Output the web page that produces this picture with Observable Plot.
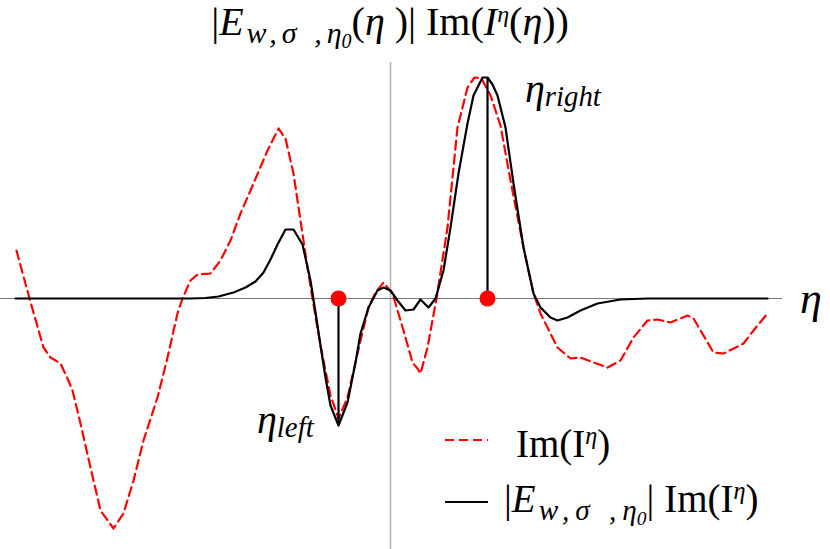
<!DOCTYPE html>
<html><head><meta charset="utf-8">
<script src="https://cdn.jsdelivr.net/npm/d3@7"></script>
<script src="https://cdn.jsdelivr.net/npm/@observablehq/plot@0.6"></script>
<style>html,body{margin:0;padding:0;background:#fff}#chart svg{display:block}</style>
</head><body><div id="chart"></div>
<script>
// Im(I^eta): [eta, value]
const imEta = [
[-3.74,0.48],[-3.61,0],[-3.47,-0.49],[-3.40,-0.59],[-3.30,-0.65],[-3.23,-0.80],[-3.18,-0.92],[-3.10,-1.25],
[-3.00,-1.69],[-2.90,-2.12],[-2.77,-2.30],[-2.67,-2.15],[-2.57,-1.82],[-2.47,-1.42],[-2.33,-0.99],[-2.23,-0.59],
[-2.13,-0.15],[-2.08,0],[-2.00,0.18],[-1.93,0.24],[-1.80,0.25],[-1.70,0.38],[-1.60,0.58],[-1.50,0.85],
[-1.37,1.15],[-1.23,1.48],[-1.12,1.70],[-1.05,1.60],[-0.97,1.25],[-0.90,0.78],[-0.83,0.31],[-0.78,0],
[-0.70,-0.47],[-0.60,-0.97],[-0.52,-1.20],[-0.43,-0.99],[-0.30,-0.42],[-0.22,-0.09],[-0.15,0.06],[-0.07,0.16],
[0.02,0.05],[0.13,-0.32],[0.22,-0.64],[0.27,-0.70],[0.30,-0.75],[0.37,-0.49],[0.46,0],[0.57,0.71],
[0.67,1.71],[0.77,2.11],[0.84,2.21],[0.91,2.20],[1.00,2.03],[1.10,1.73],[1.20,1.18],[1.33,0.51],
[1.43,0.05],[1.50,-0.15],[1.67,-0.49],[1.80,-0.60],[1.90,-0.59],[2.03,-0.64],[2.17,-0.69],[2.30,-0.62],
[2.43,-0.39],[2.57,-0.22],[2.67,-0.21],[2.80,-0.24],[2.97,-0.17],[3.03,-0.20],[3.23,-0.54],[3.33,-0.55],
[3.53,-0.45],[3.63,-0.32],[3.77,-0.15]
];
// |E_{w,sigma,eta0}| Im(I^eta): [eta, value]
const weighted = [
[-3.75,0],[-2.00,0],[-1.85,0.005],[-1.72,0.02],[-1.57,0.06],[-1.45,0.11],[-1.35,0.17],[-1.27,0.26],
[-1.20,0.39],[-1.13,0.54],[-1.05,0.69],[-0.97,0.69],[-0.88,0.54],[-0.80,0.18],[-0.75,-0.14],[-0.70,-0.47],
[-0.65,-0.79],[-0.60,-1.07],[-0.52,-1.27],[-0.43,-1.04],[-0.35,-0.64],[-0.30,-0.35],[-0.22,-0.09],[-0.13,0.08],
[-0.07,0.11],[0.00,0.08],[0.07,-0.02],[0.15,-0.12],[0.23,-0.11],[0.30,-0.01],[0.38,-0.09],[0.45,0],
[0.53,0.28],[0.60,0.71],[0.68,1.25],[0.77,1.75],[0.83,2.03],[0.92,2.21],[0.97,2.21],[1.02,2.14],
[1.07,2.03],[1.15,1.71],[1.23,1.15],[1.33,0.51],[1.43,0.05],[1.50,-0.09],[1.60,-0.19],[1.67,-0.22],
[1.77,-0.19],[1.90,-0.12],[2.07,-0.05],[2.30,-0.01],[2.57,0],[3.77,0]
];
// the two marked points eta_left and eta_right
const markerNames = ["left","right"];
const markerEta = [-0.52, 0.97];
const markerValue = [-1.27, 2.21];

const SERIF = "'Liberation Serif','DejaVu Serif',serif";
const markers = markerNames.map((n,i)=>({name:n, eta:markerEta[i], value:markerValue[i]}));
const red = imEta.map(([eta,v])=>({eta,v}));
const blk = weighted.map(([eta,v])=>({eta,v}));

const chart = Plot.plot({
  width: 830, height: 549,
  marginTop: 0, marginRight: 0, marginBottom: 0, marginLeft: 0,
  x: {domain: [-3.9, 4.4], axis: null},
  y: {domain: [-2.51, 2.98], axis: null},
  style: {background: "#fff", overflow: "visible"},
  marks: [
    Plot.ruleX([0], {y1: -2.51, y2: 2.36, stroke: "#b5b5b5", strokeWidth: 1.6}),
    Plot.ruleY([0], {x1: -3.9, x2: 3.92, stroke: "#777", strokeWidth: 1.2}),
    Plot.line(red, {x: "eta", y: "v", stroke: "#ff0000", strokeWidth: 2.2, strokeDasharray: "9,5"}),
    Plot.line(blk, {x: "eta", y: "v", stroke: "#000", strokeWidth: 2.2}),
    Plot.ruleX(markers, {x: "eta", y1: 0, y2: "value", stroke: "#000", strokeWidth: 2.2}),
    Plot.dot(markers, {x: "eta", y: 0, r: 8, fill: "#ff0000", stroke: "none"})
  ]
});
document.getElementById("chart").appendChild(chart);

const sx = chart.scale("x"), sy = chart.scale("y");
const X = v => sx.apply(v), Y = v => sy.apply(v);
const svg = d3.select(chart);
const g = svg.append("g").attr("class", "annotations");

function rich(x, y, size, parts, anchor) {
  const t = g.append("text").attr("x", x).attr("y", y)
    .attr("font-family", SERIF).attr("font-size", size)
    .attr("text-anchor", anchor || "start").attr("fill", "#000");
  let cur = 0;
  for (const p of parts) {
    const shift = p.shift || 0;
    const ts = t.append("tspan").text(p.t)
      .attr("font-size", size * (p.scale || 1)).attr("dy", shift - cur);
    if (p.italic) ts.attr("font-style", "italic");
    if (p.ls) ts.attr("letter-spacing", p.ls);
    cur = shift;
  }
  return t;
}

// title
rich(X(0), Y(2.63), 40, [
  {t:"|"},{t:"E",italic:true,ls:3},
  {t:"w,σ ,",italic:true,scale:0.75,shift:8,ls:5},
  {t:"η",italic:true,scale:0.75,shift:8},
  {t:"0",italic:true,scale:0.5,shift:13},
  {t:"(",shift:0},{t:"η",italic:true},{t:" )| Im("},
  {t:"I",italic:true},{t:"η",italic:true,scale:0.6,shift:-13},
  {t:"(",shift:0},{t:"η",italic:true},{t:"))"}
], "middle");

// marker labels
rich(X(-1.33), Y(-1.35), 40, [{t:"η",italic:true},{t:"left",italic:true,scale:0.72,shift:4}]);
rich(X(1.35), Y(1.96), 40, [{t:"η",italic:true},{t:"right",italic:true,scale:0.72,shift:4}]);
// axis label
rich(X(4.10), Y(-0.15), 44, [{t:"η",italic:true}]);

// legend
const legendLabels = ["Im(Iη)", "|Ew,σ ,η0| Im(Iη)"];
g.append("line").attr("x1", X(0.55)).attr("x2", X(0.98)).attr("y1", Y(-1.42)).attr("y2", Y(-1.42))
  .attr("stroke", "#ff0000").attr("stroke-width", 2.2).attr("stroke-dasharray", "9,5");
g.append("line").attr("x1", X(0.55)).attr("x2", X(0.98)).attr("y1", Y(-2.04)).attr("y2", Y(-2.04))
  .attr("stroke", "#000").attr("stroke-width", 2.2);
rich(X(1.26), Y(-1.59), 39, [{t:"Im(I"},{t:"η",italic:true,scale:0.62,shift:-13},{t:")",shift:0}])
  .attr("aria-label", legendLabels[0]);
rich(X(1.14), Y(-2.14), 39, [
  {t:"|"},{t:"E",italic:true,ls:3},
  {t:"w,σ ,",italic:true,scale:0.75,shift:8,ls:6},
  {t:"η",italic:true,scale:0.75,shift:8},
  {t:"0",italic:true,scale:0.5,shift:13},
  {t:"| Im(I",shift:0},{t:"η",italic:true,scale:0.62,shift:-13},{t:")",shift:0}
]).attr("aria-label", legendLabels[1]);
</script>
</body></html>
